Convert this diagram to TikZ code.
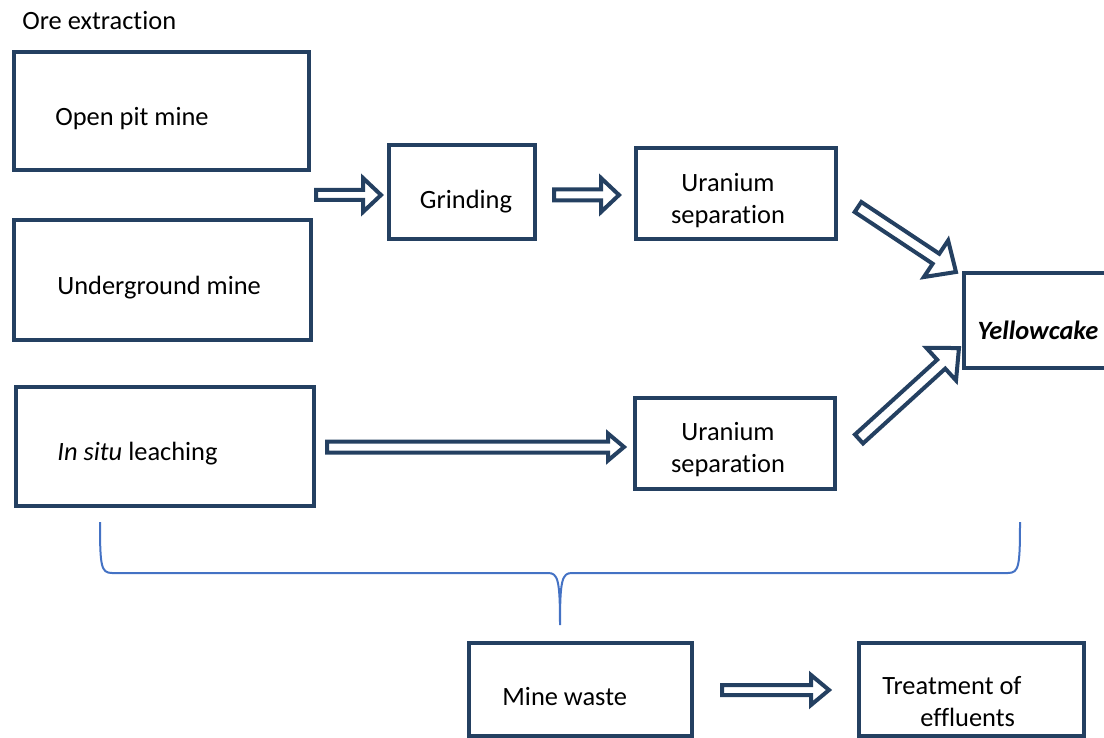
\documentclass[tikz,border=0pt]{standalone}
\usepackage{fontspec}
\setmainfont{Carlito}[Ligatures=NoCommon]
\usetikzlibrary{calc}
\definecolor{navy}{RGB}{36,64,97}
\definecolor{bracecol}{RGB}{68,114,196}
% block arrow: tail, tip, shaft half width, head half width, head length
\newcommand\barrow[5]{%
  \draw[blockarr] let \p1=($(#2)-(#1)$), \n1={atan2(\y1,\x1)}, \n2={veclen(\x1,\y1)} in
    [shift={(#1)}, rotate=\n1]
    (0pt,#3) -- ({\n2-#5},#3) -- ({\n2-#5},#4) -- ({\n2+0pt},0pt)
    -- ({\n2-#5},-#4) -- ({\n2-#5},-#3) -- (0pt,-#3) -- cycle;%
}
\tikzset{
  box/.style={draw=navy, line width=2pt, fill=white, inner sep=0pt},
  blockarr/.style={draw=navy, line width=2pt, fill=white, line join=miter},
  txt/.style={inner sep=0pt, font=\fontsize{13.2}{16}\selectfont, text=black},
  bracestyle/.style={draw=bracecol, line width=1pt},
}
\begin{document}
\begin{tikzpicture}[x=0.5pt, y=-0.5pt]
\useasboundingbox (0,0) rectangle (1104,738);
% boxes
\node[box, minimum width=147.5pt, minimum height=59pt] (op) at (161.5,111) {};
\node[box, minimum width=148.5pt, minimum height=60pt] (ug) at (162.5,280) {};
\node[box, minimum width=149pt, minimum height=59.5pt] (isl) at (165,446.5) {};
\node[box, minimum width=73pt, minimum height=47pt] (gr) at (462,192) {};
\node[box, minimum width=100pt, minimum height=45.5pt] (us1) at (736,193.5) {};
\node[box, minimum width=100pt, minimum height=45.5pt] (us2) at (735,443.5) {};
\node[box, minimum width=76pt, minimum height=47.5pt] (yc) at (1040,320.5) {};
\node[box, minimum width=111.5pt, minimum height=46.5pt] (mw) at (580.5,689.5) {};
\node[box, minimum width=112.5pt, minimum height=46.5pt] (tr) at (971.5,689.5) {};
% texts
\node[txt, anchor=west] (t0) at (22,21) {Ore extraction};
\node[txt, anchor=west] (t1) at (55,119) {Open pit mine};
\node[txt, anchor=west] (t2) at (57,288) {Underground mine};
\node[txt, anchor=west] (t3) at (57,454) {\textit{In situ} leaching};
\node[txt] (t4) at (466,202) {Grinding};
\node[txt, align=center] (t5) at (728,201) {Uranium\\separation};
\node[txt, align=center] (t6) at (728,450) {Uranium\\separation};
\node[txt] (t7) at (1038,330) {\textbf{\textit{Yellowcake}}};
\node[txt, anchor=west] (t8) at (502,697) {Mine waste};
\node[txt, anchor=north west, align=left] (t9) at (882,676) {Treatment of\\\hspace*{19pt}effluents};
% arrow end points
\coordinate (a1s) at (316,195); \coordinate (a1e) at (381,195);
\coordinate (a2s) at (554,195); \coordinate (a2e) at (619,195);
\coordinate (a3s) at (327,447); \coordinate (a3e) at (624,447);
\coordinate (a4s) at (858,207); \coordinate (a4e) at (956,272);
\coordinate (a5s) at (859,439); \coordinate (a5e) at (959,348);
\coordinate (a6s) at (722,690); \coordinate (a6e) at (829,690);
\barrow{a1s}{a1e}{2.5pt}{8.5pt}{9pt}
\barrow{a2s}{a2e}{2.75pt}{8.5pt}{9pt}
\barrow{a3s}{a3e}{2.75pt}{6.75pt}{8pt}
\barrow{a4s}{a4e}{3pt}{11pt}{12pt}
\barrow{a5s}{a5e}{3pt}{11pt}{12pt}
\barrow{a6s}{a6e}{2.5pt}{7.5pt}{9pt}
% brace
\coordinate (bl) at (100,522);
\coordinate (bm) at (560,625);
\coordinate (br) at (1020,522);
\draw[bracestyle] (bl) .. controls (100,566) and (101,573) .. (112,573)
  -- (548,573) .. controls (558,573) and (560,580) .. (bm)
  .. controls (560,580) and (562,573) .. (572,573)
  -- (1008,573) .. controls (1019,573) and (1020,566) .. (br);
\end{tikzpicture}
\end{document}
